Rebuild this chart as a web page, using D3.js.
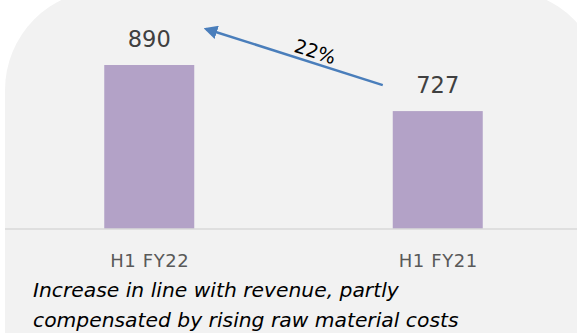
<!DOCTYPE html>
<html>
<head>
<meta charset="utf-8">
<script src="https://cdn.jsdelivr.net/npm/d3@7/dist/d3.min.js"></script>
<style>
  html, body { margin: 0; padding: 0; background: #ffffff; }
  svg { display: block; }
</style>
</head>
<body>
<script>
// Half-year values
const categories = ["H1 FY22", "H1 FY21"];
const values = [890, 727];
const growthLabel = "22%";
const noteLines = [
  "Increase in line with revenue, partly",
  "compensated by rising raw material costs"
];

const W = 577, H = 333;
const svg = d3.select("body").append("svg")
  .attr("width", W).attr("height", H);

// Panel background with rounded corners
svg.append("rect")
  .attr("x", 5).attr("y", -10)
  .attr("width", 598).attr("height", 460)
  .attr("rx", 100).attr("ry", 100)
  .attr("fill", "#f2f2f2");

const baseY = 229;
const x = d3.scalePoint().domain(categories).range([5, 582]).padding(0.5);
const y = d3.scaleLinear().domain([310, 890]).range([baseY, 65]);
const barW = 90;

const font = "'DejaVu Sans', Verdana, sans-serif";

// Bars
svg.selectAll("rect.bar").data(values).join("rect")
  .attr("class", "bar")
  .attr("x", (d, i) => x(categories[i]) - barW / 2)
  .attr("y", d => y(d))
  .attr("width", barW)
  .attr("height", d => baseY - y(d))
  .attr("fill", "#b3a2c7");

// Value labels
svg.selectAll("text.val").data(values).join("text")
  .attr("class", "val")
  .attr("x", (d, i) => x(categories[i]))
  .attr("y", d => y(d) - 18)
  .attr("text-anchor", "middle")
  .attr("font-family", font)
  .attr("font-size", 22.5)
  .attr("fill", "#404040")
  .text(d => d);

// Category axis
const axis = svg.append("g").attr("transform", `translate(0,${baseY})`)
  .call(d3.axisBottom(x).tickSize(0).tickPadding(0));
axis.select(".domain").attr("d", "M5,0H577").attr("stroke", "#d9d9d9").attr("stroke-width", 1.5);
axis.selectAll(".tick text")
  .attr("dy", null)
  .attr("y", 38)
  .style("font-family", font)
  .style("font-size", "18px")
  .style("letter-spacing", "0.6px")
  .attr("fill", "#595959");

// Growth arrow from the later bar label back to the earlier one
const defs = svg.append("defs");
defs.append("marker")
  .attr("id", "head")
  .attr("viewBox", "0 0 10 10")
  .attr("refX", 8).attr("refY", 5)
  .attr("markerWidth", 5.5).attr("markerHeight", 5.5)
  .attr("orient", "auto")
  .append("path").attr("d", "M0,0L10,5L0,10z").attr("fill", "#4a7ebb");

const x0 = x(categories[1]) - 55, y0 = y(values[1]) - 26;
const x1 = x(categories[0]) + 57, y1 = y(values[0]) - 36;
svg.append("line")
  .attr("x1", x0).attr("y1", y0)
  .attr("x2", x1).attr("y2", y1)
  .attr("stroke", "#4a7ebb").attr("stroke-width", 2.5)
  .attr("marker-end", "url(#head)");

const ang = Math.atan2(y0 - y1, x0 - x1) * 180 / Math.PI;
svg.append("text")
  .attr("transform", `translate(313,58) rotate(${ang})`)
  .attr("text-anchor", "middle")
  .attr("font-family", font)
  .attr("font-size", 19)
  .attr("fill", "#000")
  .text(growthLabel);

// Commentary
svg.selectAll("text.note").data(noteLines).join("text")
  .attr("class", "note")
  .attr("x", 33)
  .attr("y", (d, i) => 297 + i * 30)
  .attr("font-family", font)
  .attr("font-style", "italic")
  .attr("font-size", 20.3)
  .attr("fill", "#000")
  .text(d => d);
</script>
</body>
</html>
